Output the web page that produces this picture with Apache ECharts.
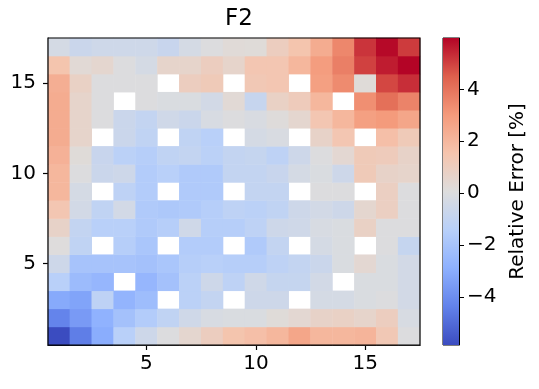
<!DOCTYPE html>
<html>
<head>
<meta charset="utf-8">
<script src="https://cdn.jsdelivr.net/npm/echarts@6/dist/echarts.min.js"></script>
<style>
html,body{margin:0;padding:0;background:#fff;}
#chart{width:539px;height:389px;}
</style>
</head>
<body>
<div id="chart"></div>
<script>
// categories (grid positions 1..17)
const xCats = ['1','2','3','4','5','6','7','8','9','10','11','12','13','14','15','16','17'];
const yCats = ['1','2','3','4','5','6','7','8','9','10','11','12','13','14','15','16','17'];
const tickLabels = ['5','10','15'];
const cbTicks = [-4, -2, 0, 2, 4];
const cbMin = -5.86;
const cbMax = 5.98;
const N = null;
// relative error [%], rows from y=1 (bottom) to y=17 (top)
const y1  = [-5.86, -4.5, -3.0, -1.4, -0.6, 0.0, 0.5, 1.0, 1.5, 1.7, 2.0, 2.6, 2.0, 2.0, 2.1, 1.3, 0.0];
const y2  = [-4.3, -3.6, -2.8, -2.1, -1.6, -1.1, -0.5, -0.2, -0.1, -0.1, 0.2, 0.4, 0.7, 0.8, 0.6, 1.0, -0.2];
const y3  = [-3.1, -3.3, -1.2, -2.7, -2.3, N, -1.3, -1.0, N, -0.6, -0.6, N, -0.3, -0.3, -0.1, 0.0, -0.4];
const y4  = [-1.4, -2.4, -2.6, N, -2.6, -2.1, -1.3, -0.6, -1.2, -0.5, -0.9, -0.9, -0.4, N, -0.1, -0.1, -0.4];
const y5  = [-0.6, -2.0, -2.0, -2.0, -2.1, -1.9, -1.5, -1.4, -1.5, -1.5, -1.2, -1.0, -0.7, -0.1, 0.4, -0.1, -0.4];
const y6  = [0.1, -1.1, N, -1.5, -1.9, N, -1.6, -1.6, N, -1.7, -1.0, N, -0.3, -0.1, N, 0.0, -0.9];
const y7  = [0.7, -1.0, -1.4, -1.4, -1.7, -1.5, -0.5, -1.5, -1.5, -1.2, -0.6, -0.5, -0.2, -0.1, 0.8, 0.0, 0.0];
const y8  = [1.4, -0.4, -1.1, -0.4, -1.7, -1.8, -1.7, -1.5, -1.2, -1.3, -1.1, -0.6, -0.4, -0.6, 0.5, 0.9, 0.0];
const y9  = [2.0, -0.3, N, -1.2, -1.6, N, -1.7, -1.7, N, -1.0, -1.0, N, 0.0, 0.0, N, 0.9, 0.0];
const y10 = [2.0, 0.0, -0.7, -0.6, -1.6, -1.4, -1.7, -1.7, -1.0, -1.0, -0.8, -0.3, -0.1, -0.6, 1.2, 0.7, 0.6];
const y11 = [2.2, 0.2, -0.8, -1.3, -1.5, -1.1, -1.0, -1.3, -1.0, -0.9, -1.2, -0.6, 0.0, 0.4, 1.2, 1.1, 0.7];
const y12 = [2.4, 0.6, N, -0.7, -1.1, N, -1.1, -1.4, N, -0.3, -0.15, N, 0.7, 1.4, N, 1.7, 1.2];
const y13 = [2.4, 0.6, 0.0, -0.7, -1.0, -0.5, -0.7, -0.2, 0.0, -0.15, 0.15, 0.5, 1.4, 2.0, 2.8, 3.0, 2.6];
const y14 = [2.4, 0.6, 0.0, N, 0.0, -0.1, -0.1, -0.4, 0.3, -0.85, 0.8, 1.1, 2.0, N, 3.3, 4.1, 3.6];
const y15 = [2.3, 0.8, 0.0, 0.0, 0.0, N, 1.0, 1.2, N, 1.3, 1.4, N, 2.8, 3.4, 0.2, 4.9, 5.3];
const y16 = [1.5, 0.3, 0.5, 0.0, -0.3, 0.6, 0.6, 1.0, 0.6, 1.4, 1.4, 2.0, 2.9, 3.7, 5.0, 5.6, 5.98];
const y17 = [-0.3, -0.7, -0.55, -0.55, -0.55, -0.8, -0.3, 0.0, 0.25, 0.2, 1.0, 1.5, 2.4, 3.5, 5.2, 5.9, 5.1];
const rows = [y1, y2, y3, y4, y5, y6, y7, y8, y9, y10, y11, y12, y13, y14, y15, y16, y17];

const coolwarm = ['#3b4cc0','#6282ea','#8db0fe','#b8d0f9','#dddddd','#f5c4ad','#f49a7b','#de604d','#b40426'];

const heatData = [];
rows.forEach((row, yi) => row.forEach((v, xi) => { if (v !== null) heatData.push([xi, yi, v]); }));

const FONT = 'DejaVu Sans';
const showTick = (idx, val) => tickLabels.indexOf(String(val)) >= 0;
const minus = v => String(v).replace('-', '\u2212');

const chart = echarts.init(document.getElementById('chart'), null, {renderer: 'canvas'});
chart.setOption({
  animation: false,
  backgroundColor: '#fff',
  textStyle: {fontFamily: FONT},
  title: {
    text: 'F2', left: 234, top: 3, textAlign: 'center',
    textStyle: {fontFamily: FONT, fontSize: 23, fontWeight: 'normal', color: '#000'}
  },
  grid: [
    {left: 48, top: 38, width: 372, height: 307, show: true, borderColor: '#000', borderWidth: 1.2, backgroundColor: 'transparent', z: 10},
    {left: 443, top: 38, width: 16, height: 307, show: true, borderColor: '#000', borderWidth: 1, backgroundColor: 'transparent'}
  ],
  xAxis: [
    {type: 'category', gridIndex: 0, data: xCats,
     axisLine: {show: true, lineStyle: {color: '#000', width: 1.2}},
     axisTick: {show: true, interval: showTick, alignWithLabel: true, length: 5, lineStyle: {color: '#000', width: 1.2}},
     axisLabel: {interval: showTick, fontSize: 20, color: '#000', margin: 9, fontFamily: FONT},
     splitLine: {show: false}},
    {type: 'category', gridIndex: 1, data: ['cb'], show: false}
  ],
  yAxis: [
    {type: 'category', gridIndex: 0, data: yCats,
     axisLine: {show: true, lineStyle: {color: '#000', width: 1.2}},
     axisTick: {show: true, interval: showTick, alignWithLabel: true, length: 5, lineStyle: {color: '#000', width: 1.2}},
     axisLabel: {interval: showTick, fontSize: 20, color: '#000', margin: 12, fontFamily: FONT},
     splitLine: {show: false}},
    {type: 'value', gridIndex: 1, min: cbMin, max: cbMax, position: 'right',
     axisLine: {show: true, lineStyle: {color: '#000', width: 1}},
     axisTick: {show: true, customValues: cbTicks, length: 5, lineStyle: {color: '#000', width: 1}},
     axisLabel: {customValues: cbTicks, fontSize: 20, color: '#000', margin: 8, fontFamily: FONT, formatter: minus},
     splitLine: {show: false},
     name: 'Relative Error [%]', nameLocation: 'middle', nameRotate: 90, nameGap: 49,
     nameTextStyle: {fontSize: 20, color: '#000', fontFamily: FONT}}
  ],
  visualMap: {
    type: 'continuous', show: false, min: cbMin, max: cbMax, seriesIndex: 0, dimension: 2,
    inRange: {color: coolwarm}
  },
  series: [
    {type: 'heatmap', xAxisIndex: 0, yAxisIndex: 0, data: heatData,
     itemStyle: {borderWidth: 0}, emphasis: {disabled: true}, progressive: 0},
    {type: 'custom', xAxisIndex: 1, yAxisIndex: 1, silent: true,
     data: [[0, cbMin, cbMax]],
     renderItem: function (params, api) {
       const pLo = api.coord([api.value(0), api.value(1)]);
       const pHi = api.coord([api.value(0), api.value(2)]);
       const bw = api.size([1, 0])[0];
       const stops = coolwarm.map((c, i) => ({offset: i / (coolwarm.length - 1), color: c}));
       return {
         type: 'rect',
         shape: {x: pLo[0] - bw / 2, y: pHi[1], width: bw, height: pLo[1] - pHi[1]},
         style: {fill: new echarts.graphic.LinearGradient(0, 1, 0, 0, stops)}
       };
     }}
  ]
});
</script>
</body>
</html>
